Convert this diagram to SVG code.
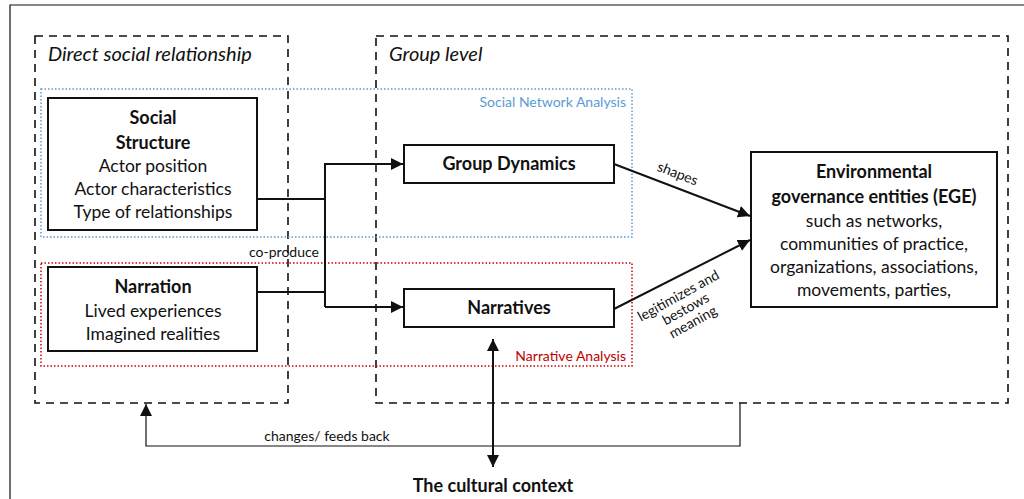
<svg xmlns="http://www.w3.org/2000/svg" width="1024" height="499" viewBox="0 0 1024 499">
  <style>
    text { font-family: Lato, "Open Sans", "Liberation Sans", sans-serif; fill: #111; }
    .b { font-weight: bold; font-size: 18px; }
    .n { font-size: 17.5px; }
    .it { font-style: italic; font-size: 20px; }
    .sm { font-size: 14px; }
    .box { fill: #fff; stroke: #111; stroke-width: 2; }
    .dash { fill: none; stroke: #111; stroke-width: 1.6; stroke-dasharray: 8 6; }
    .line { fill: none; stroke: #111; stroke-width: 2; }
    .thin { fill: none; stroke: #111; stroke-width: 1.2; }
  </style>
  <defs>
    <marker id="ahL" viewBox="0 0 10 10" refX="10" refY="5" markerWidth="12" markerHeight="12" markerUnits="userSpaceOnUse" orient="auto-start-reverse">
      <path d="M0,0 L10,5 L0,10 z" fill="#111"/>
    </marker>
  </defs>
  <rect width="1024" height="499" fill="#fff"/>

  <!-- outer frame -->
  <path d="M10,499 V5 H1024" fill="none" stroke="#111" stroke-width="1.2"/>

  <!-- level regions -->
  <g id="direct-level">
    <rect class="dash" x="35" y="36" width="253" height="367"/>
    <text class="it" x="48" y="61">Direct social relationship</text>
  </g>
  <g id="group-level">
    <rect class="dash" x="376" y="36" width="632" height="367"/>
    <text class="it" x="389" y="61">Group level</text>
  </g>

  <!-- analysis regions -->
  <g id="sna">
    <rect x="41" y="89" width="591" height="148" fill="none" stroke="#5b9bd5" stroke-width="1.5" stroke-dasharray="1.5 2"/>
    <text x="626" y="107" text-anchor="end" font-size="14" style="fill:#5b9bd5">Social Network Analysis</text>
  </g>
  <g id="na">
    <rect x="41" y="263" width="591" height="103" fill="none" stroke="#d00000" stroke-width="1.5" stroke-dasharray="1.5 2"/>
    <text x="626" y="361" text-anchor="end" font-size="14" style="fill:#c00000">Narrative Analysis</text>
  </g>

  <!-- connectors -->
  <g id="connectors">
    <path class="line" d="M257,199 H325"/>
    <path class="line" d="M245,292 H325"/>
    <path class="line" d="M325,307 V164 H403" marker-end="url(#ahL)"/>
    <path class="line" d="M325,307 H403" marker-end="url(#ahL)"/>
    <text class="sm" x="284" y="257" text-anchor="middle">co-produce</text>
    <path class="line" d="M614,164 L750,216" marker-end="url(#ahL)"/>
    <text class="sm" transform="translate(676,178) rotate(21)" text-anchor="middle">shapes</text>
    <path class="line" d="M614,309 L750,240" marker-end="url(#ahL)"/>
    <g transform="translate(688,313) rotate(-29)">
      <text class="sm" x="0" y="-15" text-anchor="middle">legitimizes and</text>
      <text class="sm" x="0" y="0" text-anchor="middle">bestows</text>
      <text class="sm" x="0" y="15" text-anchor="middle">meaning</text>
    </g>
    <path class="line" d="M493,339 V467" marker-start="url(#ahL)" marker-end="url(#ahL)"/>
    <path class="thin" d="M740,403 V446 H146 V404" marker-end="url(#ahL)"/>
    <text x="327" y="441" text-anchor="middle" font-size="14">changes/ feeds back</text>
  </g>

  <!-- nodes -->
  <g id="social-structure">
    <rect class="box" x="48" y="98" width="209" height="132"/>
    <text class="b" x="153" y="124" text-anchor="middle">Social</text>
    <text class="b" x="153" y="149" text-anchor="middle">Structure</text>
    <text class="n" x="153" y="172" text-anchor="middle">Actor position</text>
    <text class="n" x="153" y="195" text-anchor="middle">Actor characteristics</text>
    <text class="n" x="153" y="218" text-anchor="middle">Type of relationships</text>
  </g>
  <g id="narration">
    <rect class="box" x="48" y="267" width="209" height="84"/>
    <text class="b" x="153" y="293" text-anchor="middle">Narration</text>
    <text class="n" x="153" y="317" text-anchor="middle">Lived experiences</text>
    <text class="n" x="153" y="340" text-anchor="middle">Imagined realities</text>
  </g>
  <g id="group-dynamics">
    <rect class="box" x="404" y="145" width="210" height="38"/>
    <text class="b" x="509" y="170" text-anchor="middle">Group Dynamics</text>
  </g>
  <g id="narratives">
    <rect class="box" x="404" y="289" width="210" height="38"/>
    <text class="b" x="509" y="314" text-anchor="middle">Narratives</text>
  </g>
  <g id="ege">
    <rect class="box" x="751" y="152" width="246" height="155"/>
    <text class="b" x="874" y="178" text-anchor="middle">Environmental</text>
    <text class="b" x="874" y="203" text-anchor="middle">governance entities (EGE)</text>
    <text class="n" x="874" y="227" text-anchor="middle">such as networks,</text>
    <text class="n" x="874" y="250" text-anchor="middle">communities of practice,</text>
    <text class="n" x="874" y="273" text-anchor="middle">organizations, associations,</text>
    <text class="n" x="874" y="296" text-anchor="middle">movements, parties,</text>
  </g>
  <g id="cultural-context">
    <text class="b" x="493" y="492" text-anchor="middle">The cultural context</text>
  </g>
</svg>
